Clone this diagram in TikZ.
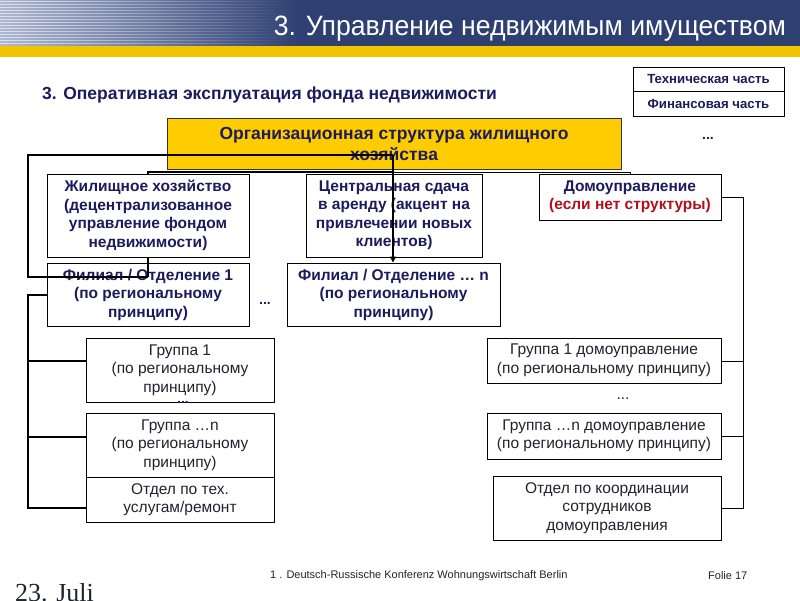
\documentclass[tikz,border=0pt]{standalone}
\usepackage{fontspec}
\setmainfont{Liberation Sans}
\newfontfamily\serifff{Liberation Serif}
\usetikzlibrary{arrows.meta,fadings}
\definecolor{navy}{HTML}{1B1B5E}
\definecolor{hdr}{HTML}{2E3F72}
\definecolor{hdrl}{HTML}{AEB8D2}
\definecolor{gold}{HTML}{FFCC00}
\definecolor{band}{HTML}{F4C300}
\definecolor{redt}{HTML}{B0101E}
\definecolor{txt}{HTML}{222230}
\begin{document}
\begin{tikzpicture}[x=1pt,y=-1pt,
  bbox/.style={draw=black, line width=0.9pt, fill=white, inner sep=0pt, align=center, text=navy, font=\fontsize{15.5}{18.5}\selectfont\bfseries},
  rbox/.style={draw=black, line width=0.9pt, fill=white, inner sep=0pt, align=center, text=txt, font=\fontsize{15.5}{18.5}\selectfont},
  sbox/.style={draw=black, line width=0.9pt, fill=white, inner sep=0pt, align=center, text=navy, font=\fontsize{13.2}{14}\selectfont\bfseries},
  thk/.style={draw=black, line width=2.2pt},
  thn/.style={draw=black, line width=1pt},
  dots/.style={font=\fontsize{14}{14}\selectfont\bfseries, text=navy, inner sep=0pt}
]
\useasboundingbox (0,0) rectangle (800,600);
% header
\shade[left color=hdrl, right color=hdr] (0,0) rectangle (300,46);
\fill[hdr] (300,0) rectangle (800,46);
\foreach \i in {0,...,14} \fill[white, fill opacity=0.6, path fading=east] (0,{1+3*\i}) rectangle (290,{2.4+3*\i});
\fill[band] (0,46) rectangle (800,57);
\node[anchor=east, text=white, font=\fontsize{28}{28}\selectfont, inner sep=0pt, xscale=0.95] (title) at (786,29) {3. Управление недвижимым имуществом};
\node[anchor=west, text=navy, font=\fontsize{17.5}{17.5}\selectfont\bfseries, inner sep=0pt] (sub) at (42,95) {3. Оперативная эксплуатация фонда недвижимости};
% top right
\node[sbox, minimum width=151pt, minimum height=24pt] (tech) at (708.5,79) {Техническая часть};
\node[sbox, minimum width=151pt, minimum height=25pt] (fin) at (708.5,103.5) {Финансовая часть};
\node[dots] (d0) at (708,138) {...};
% main
\node[bbox, fill=gold, draw=black!80, minimum width=454pt, minimum height=51pt, font=\fontsize{17.5}{21}\selectfont\bfseries] (org) at (394,143.5) {Организационная структура жилищного\\хозяйства};
\node[bbox, minimum width=202pt, minimum height=83pt] (A) at (148,215.5) {Жилищное хозяйство\\(децентрализованное\\управление фондом\\недвижимости)};
\node[bbox, minimum width=176pt, minimum height=83pt] (B) at (394,215.5) {Центральная сдача\\в аренду (акцент на\\привлечении новых\\клиентов)};
\node[bbox, minimum width=182pt, minimum height=46pt] (C) at (630,197) {Домоуправление\\\textcolor{redt}{(если нет структуры)}};
\node[bbox, minimum width=202pt, minimum height=63pt] (F1) at (148,294.5) {Филиал / Отделение 1\\(по региональному\\принципу)};
\node[bbox, minimum width=213pt, minimum height=63pt] (Fn) at (393.5,294.5) {Филиал / Отделение … n\\(по региональному\\принципу)};
\node[dots] (d1) at (265,303) {...};
\node[rbox, minimum width=188pt, minimum height=64pt] (G1) at (180,370) {Группа 1\\(по региональному\\принципу)};
\node[rbox, minimum width=188pt, minimum height=64pt] (Gn) at (180,445) {Группа …n\\(по региональному\\принципу)};
\node[rbox, minimum width=188pt, minimum height=45pt] (T) at (180,499.5) {Отдел по тех.\\услугам/ремонт};
\node[dots] (d2) at (183,402) {...};
\node[rbox, minimum width=234pt, minimum height=45pt] (D1) at (604,360.5) {Группа 1 домоуправление\\(по региональному принципу)};
\node[rbox, minimum width=234pt, minimum height=46pt] (Dn) at (604,436) {Группа …n домоуправление\\(по региональному принципу)};
\node[rbox, minimum width=228pt, minimum height=64pt] (K) at (607,508) {Отдел по координации\\сотрудников\\домоуправления};
\node[text=txt, font=\fontsize{15.5}{15.5}\selectfont, inner sep=0pt] (d3) at (623,399) {...};
% connectors
\coordinate (hub) at (393,155);
\coordinate (hub2) at (393,172);
\coordinate (lt) at (28,155);
\coordinate (lb) at (28,277);
\coordinate (l2t) at (28,295);
\coordinate (l2b) at (28,508);
\coordinate (rt) at (743,197);
\coordinate (rb) at (743,508);
\draw[thk] (hub) -- (lt) -- (lb) -- (A.south |- lb);
\draw[thk] (A.south) -- (A.south |- lb);
\draw[thk, -{Triangle[length=6pt,width=6pt]}] (hub) -- (hub |- Fn.north);
\draw[thk] (hub2) -- (A.north |- hub2) -- (A.north);
\draw[thn] (hub2) -- (C.north |- hub2) -- (C.north);
\draw[thk] (F1.west |- l2t) -- (l2t) -- (l2b) -- (T.west |- l2b);
\draw[thk] (28,361) -- (G1.west |- 0,361);
\draw[thk] (28,437) -- (Gn.west |- 0,437);
\draw[thn] (C.east) -- (rt) -- (rb) -- (K.east |- rb);
\draw[thn] (743,361) -- (D1.east |- 0,361);
\draw[thn] (743,436) -- (Dn.east |- 0,436);
% footer
\node[anchor=west, text=txt, font=\fontsize{11}{11}\selectfont, inner sep=0pt] (foot) at (270,576) {1 . Deutsch-Russische Konferenz Wohnungswirtschaft Berlin};
\node[anchor=west, text=txt, font=\fontsize{11}{11}\selectfont, inner sep=0pt] (folie) at (708,576) {Folie 17};
\begin{scope}
\clip (0,0) rectangle (800,600);
\node[anchor=base west, text=txt, font=\serifff\fontsize{26}{26}\selectfont, inner sep=0pt] (date) at (15,601) {23. Juli};
\end{scope}
\end{tikzpicture}
\end{document}
